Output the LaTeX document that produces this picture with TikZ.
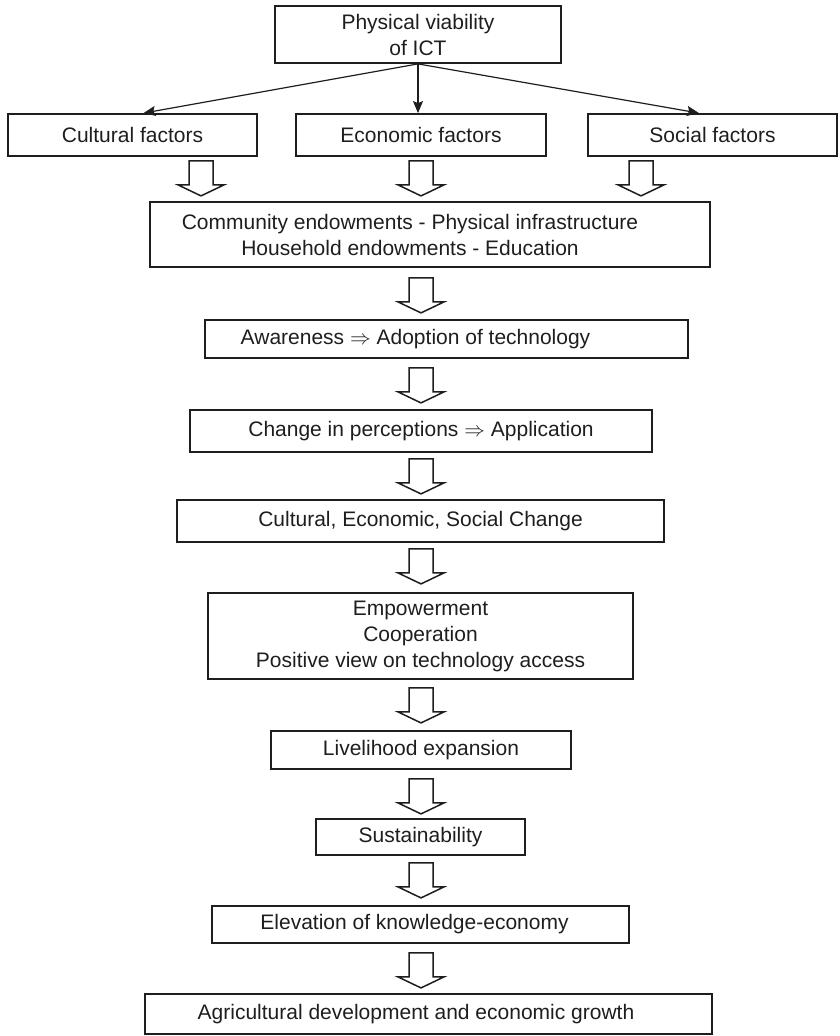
\documentclass[tikz,border=0pt]{standalone}
\usepackage{fontspec}
\setmainfont{Liberation Sans}
\usetikzlibrary{arrows.meta,calc}
\definecolor{ink}{RGB}{30,30,30}
\tikzset{
  box/.style={draw=ink, line width=1.8pt, align=center, inner sep=0pt, text=ink,
    font=\fontsize{21}{26}\selectfont},
  link/.style={draw=ink, line width=1.2pt, -{Stealth[length=12pt,width=10pt,inset=2pt]}},
  hollow/.style={draw=ink, line width=1.5pt, fill=white, line join=miter},
  dnarrow/.pic={\path[hollow] (-12,0) -- (-12,24) -- (-23,24) -- (0,35) -- (23,24) -- (12,24) -- (12,0) -- cycle;}
}
\begin{document}
\begin{tikzpicture}[x=1pt, y=-1pt]
\useasboundingbox (0,0) rectangle (840,1036);
\coordinate (axis) at (421,0);

% source box and the three factor boxes
\node[box, minimum width=286pt, minimum height=57pt] (top) at (418,34.5) {Physical viability\\of ICT};
\node[box, minimum width=249pt, minimum height=42pt] (cult) at (132.5,135) {Cultural factors};
\node[box, minimum width=250pt, minimum height=42pt] (econ) at (421,135) {Economic factors};
\node[box, minimum width=249pt, minimum height=42pt] (soc) at (712.5,135) {Social factors};

\draw[link] (top.south) -- ([xshift=11pt]cult.north);
\draw[link] (top.south) -- (top.south |- econ.north);
\draw[link] (top.south) -- ([xshift=-13.5pt]soc.north);

% main chain
\node[box, minimum width=560pt, minimum height=65pt] (comm) at (430,234.5)
  {Community endowments - Physical infrastructure\hspace*{40pt}\\Household endowments - Education\hspace*{40pt}};
\node[box, minimum width=483pt, minimum height=38pt] (aware) at (446.5,339)
  {Awareness $\Rightarrow$ Adoption of technology\hspace*{62pt}};
\node[box, minimum width=462pt, minimum height=42pt] (chg) at (421,431)
  {Change in perceptions $\Rightarrow$ Application};
\node[box, minimum width=487pt, minimum height=42pt] (ces) at (420.5,521)
  {Cultural, Economic, Social Change};
\node[box, minimum width=425pt, minimum height=86pt] (emp) at (420.5,636)
  {Empowerment\\Cooperation\\Positive view on technology access};
\node[box, minimum width=300pt, minimum height=38pt] (live) at (421,750)
  {Livelihood expansion};
\node[box, minimum width=209pt, minimum height=36pt] (sust) at (420.5,837)
  {Sustainability};
\node[box, minimum width=417pt, minimum height=37pt] (elev) at (420.5,924.5)
  {Elevation of knowledge-economy\hspace*{12pt}};
\node[box, minimum width=567pt, minimum height=40pt] (agri) at (428.5,1014)
  {Agricultural development and economic growth\hspace*{25pt}};

% hollow block arrows between the stages
\pic at ($(cult.south -| axis)+(-220,4)$) {dnarrow};
\pic at ($(econ.south -| axis)+(0,4)$) {dnarrow};
\pic at ($(soc.south -| axis)+(220,4)$) {dnarrow};
\pic at ($(comm.south -| axis)+(0,10)$) {dnarrow};
\pic at ($(aware.south -| axis)+(0,9)$) {dnarrow};
\pic at ($(chg.south -| axis)+(0,6)$) {dnarrow};
\pic at ($(ces.south -| axis)+(0,6)$) {dnarrow};
\pic at ($(emp.south -| axis)+(0,8)$) {dnarrow};
\pic at ($(live.south -| axis)+(0,9)$) {dnarrow};
\pic at ($(sust.south -| axis)+(0,7)$) {dnarrow};
\pic at ($(elev.south -| axis)+(0,9)$) {dnarrow};
\end{tikzpicture}
\end{document}
